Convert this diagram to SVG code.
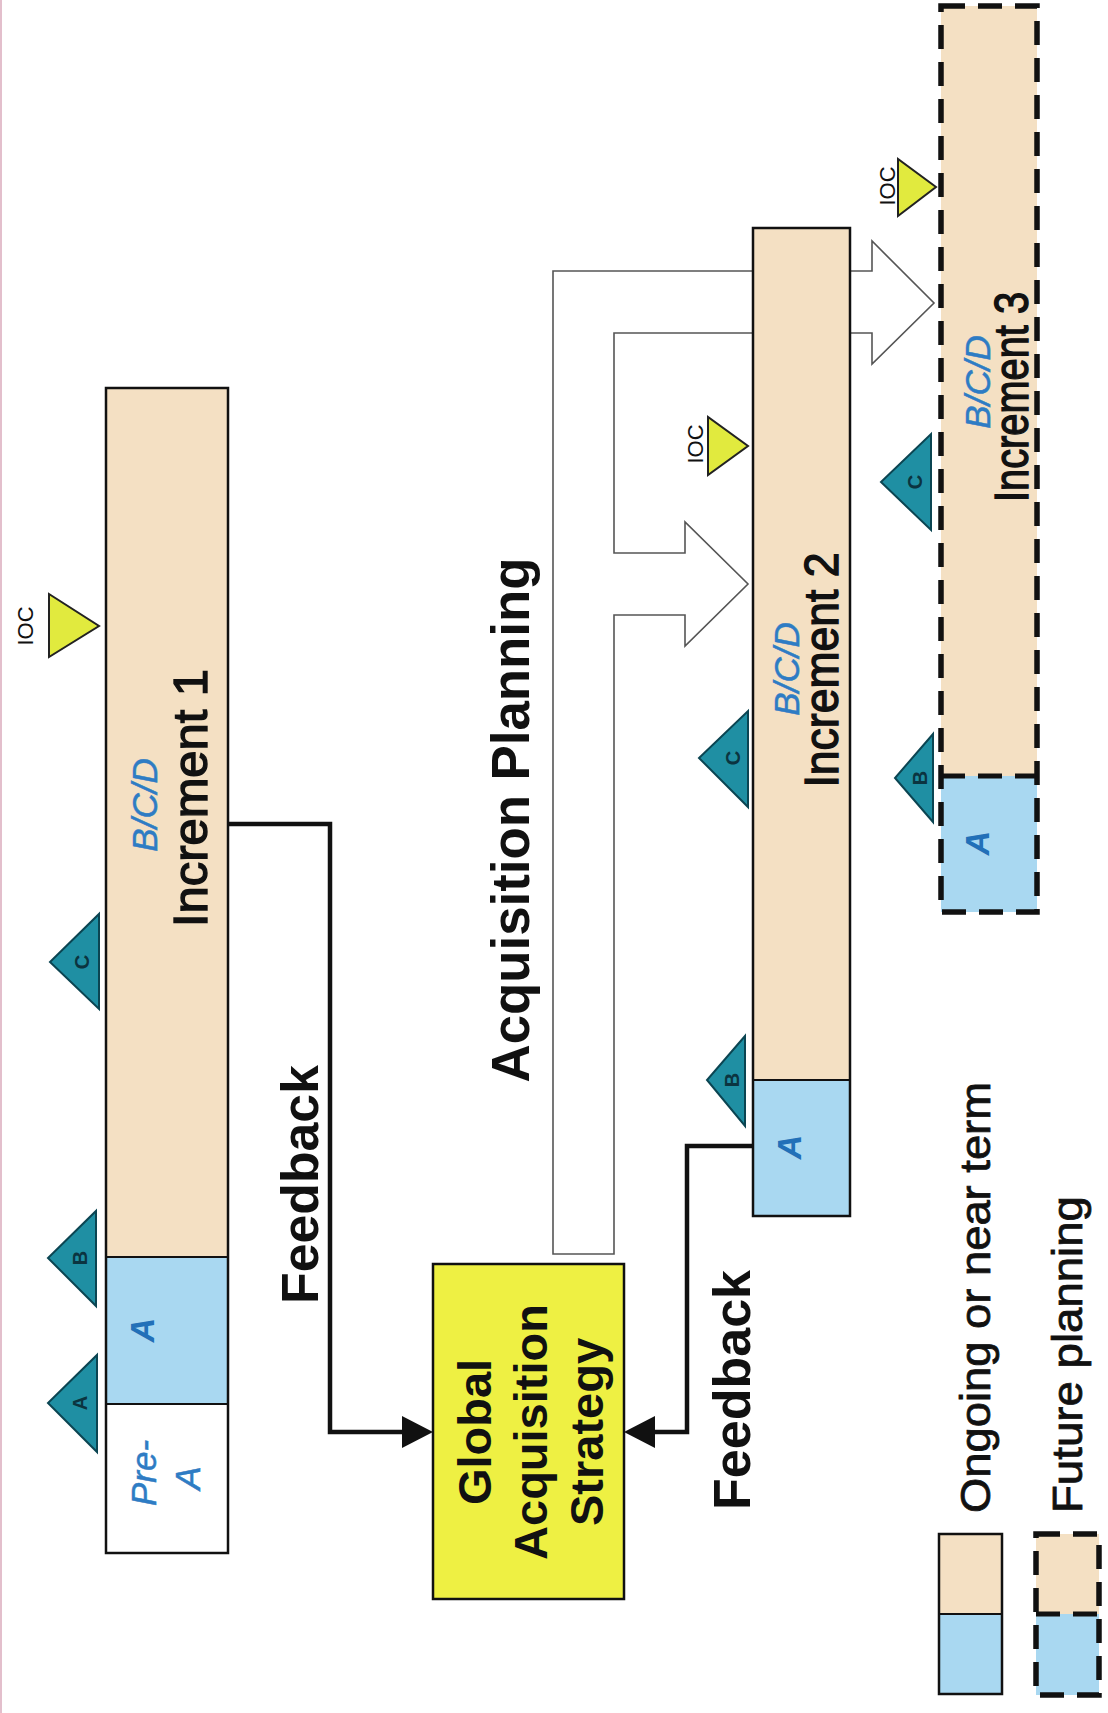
<svg xmlns="http://www.w3.org/2000/svg" width="1108" height="1713" viewBox="0 0 1108 1713">
<defs>
<style>
.tan{fill:#f4e0c3}
.blue{fill:#a9d8f1}
.solid{fill:none;stroke:#111;stroke-width:2.5}
.dash{fill:none;stroke:#111;stroke-width:5.5;stroke-dasharray:24 13}
.teal{fill:#1f8fa3;stroke:#0b4552;stroke-width:2}
.ioc{fill:#e1ea3e;stroke:#222;stroke-width:2}
.t{font-family:"Liberation Sans",Arial,sans-serif}
.mlab{font-size:20px;font-weight:bold;fill:#0b3440;text-anchor:middle}
.ioct{font-size:22px;fill:#111;text-anchor:middle}
.bcd{font-size:35px;font-style:italic;fill:#2e7cc4;stroke:#2e7cc4;stroke-width:0.5;text-anchor:middle}
.al{font-size:34px;font-style:italic;font-weight:bold;fill:#2270b8;text-anchor:middle}
.inc{font-size:48px;fill:#111;stroke:#111;stroke-width:1.4;text-anchor:middle}
.big{font-weight:bold;fill:#111}
.conn{fill:none;stroke:#111;stroke-width:4.5}
.hollow{fill:#fff;stroke:#555;stroke-width:1.6}
.head{fill:#111}
</style>
</defs>
<rect width="1108" height="1713" fill="#fff"/>
<line x1="1" y1="0" x2="1" y2="1713" stroke="#e3bfcc" stroke-width="2"/>

<g id="acquisition-planning-arrow">
<path class="hollow" d="M553,1254 L553,271 L872,271 L872,241 L934,303 L872,364 L872,333 L614,333 L614,553 L685,553 L685,522 L748,584 L685,646 L685,615 L614,615 L614,1254 Z"/>
<text class="t big" font-size="53" text-anchor="middle" textLength="525" lengthAdjust="spacingAndGlyphs" transform="translate(529,820) rotate(-90)">Acquisition Planning</text>
</g>

<g id="connectors">
<path class="conn" d="M228,824 L330,824 L330,1432 L405,1432"/>
<polygon class="head" points="402,1416 433,1432 402,1448"/>
<path class="conn" d="M753,1146 L687,1146 L687,1432 L652,1432"/>
<polygon class="head" points="655,1416 624,1432 655,1448"/>
<text class="t big" font-size="52" textLength="239" lengthAdjust="spacingAndGlyphs" transform="translate(318,1304) rotate(-90)">Feedback</text>
<text class="t big" font-size="52" textLength="240" lengthAdjust="spacingAndGlyphs" transform="translate(750,1510) rotate(-90)">Feedback</text>
</g>

<g id="increment-1">
<rect class="tan" x="106" y="388" width="122" height="869"/>
<rect class="blue" x="106" y="1257" width="122" height="147"/>
<rect fill="#fff" x="106" y="1404" width="122" height="149"/>
<rect class="solid" x="106" y="388" width="122" height="1165"/>
<line x1="106" y1="1257" x2="228" y2="1257" stroke="#111" stroke-width="2"/>
<line x1="106" y1="1404" x2="228" y2="1404" stroke="#111" stroke-width="2"/>
<text class="t bcd" transform="translate(157,805) rotate(-90)">B/C/D</text>
<text class="t inc" textLength="258" lengthAdjust="spacingAndGlyphs" transform="translate(207,798) rotate(-90)">Increment 1</text>
<text class="t al" transform="translate(154,1330) rotate(-90)">A</text>
<text class="t bcd" transform="translate(156,1473) rotate(-90)">Pre-</text>
<text class="t bcd" transform="translate(200,1478) rotate(-90)">A</text>
<polygon class="teal" points="97,1355 97,1452 48,1403"/>
<text class="t mlab" transform="translate(87,1403) rotate(-90)">A</text>
<polygon class="teal" points="96,1211 96,1306 48,1258"/>
<text class="t mlab" transform="translate(87,1258) rotate(-90)">B</text>
<polygon class="teal" points="99,914 99,1009 50,962"/>
<text class="t mlab" transform="translate(89,962) rotate(-90)">C</text>
<polygon class="ioc" points="49,594 49,657 99,626"/>
<text class="t ioct" transform="translate(33,626) rotate(-90)">IOC</text>
</g>

<g id="increment-2">
<rect class="tan" x="753" y="228" width="97" height="852"/>
<rect class="blue" x="753" y="1080" width="97" height="136"/>
<rect class="solid" x="753" y="228" width="97" height="988"/>
<line x1="753" y1="1080" x2="850" y2="1080" stroke="#111" stroke-width="2"/>
<text class="t bcd" font-size="34" transform="translate(799,669) rotate(-90)">B/C/D</text>
<text class="t inc" font-size="44" textLength="235" lengthAdjust="spacingAndGlyphs" transform="translate(838,670) rotate(-90)">Increment 2</text>
<text class="t al" transform="translate(801,1147) rotate(-90)">A</text>
<polygon class="teal" points="745,1036 745,1126 707,1080"/>
<text class="t mlab" transform="translate(739,1080) rotate(-90)">B</text>
<polygon class="teal" points="748,711 748,807 699,758"/>
<text class="t mlab" transform="translate(740,758) rotate(-90)">C</text>
<polygon class="ioc" points="708,417 708,475 748,446"/>
<text class="t ioct" transform="translate(703,444) rotate(-90)">IOC</text>
</g>

<g id="increment-3">
<rect class="tan" x="941" y="6" width="96" height="770"/>
<rect class="blue" x="941" y="776" width="96" height="136"/>
<rect class="dash" x="941" y="6" width="96" height="906"/>
<line x1="941" y1="776" x2="1037" y2="776" stroke="#111" stroke-width="5" stroke-dasharray="24 13"/>
<text class="t bcd" font-size="34" transform="translate(990,382) rotate(-90)">B/C/D</text>
<text class="t inc" font-size="40" textLength="210" lengthAdjust="spacingAndGlyphs" transform="translate(1028,397) rotate(-90)">Increment 3</text>
<text class="t al" transform="translate(989,843) rotate(-90)">A</text>
<polygon class="teal" points="933,734 933,822 895,778"/>
<text class="t mlab" transform="translate(927,778) rotate(-90)">B</text>
<polygon class="teal" points="931,434 931,530 881,482"/>
<text class="t mlab" transform="translate(922,482) rotate(-90)">C</text>
<polygon class="ioc" points="898,159 898,216 936,187"/>
<text class="t ioct" transform="translate(895,186) rotate(-90)">IOC</text>
</g>

<g id="global-acquisition-strategy">
<rect x="433" y="1264" width="191" height="335" fill="#eef043" stroke="#111" stroke-width="2.5"/>
<text class="t big" font-size="47" text-anchor="middle" transform="translate(491,1432) rotate(-90)">Global</text>
<text class="t big" font-size="47" text-anchor="middle" transform="translate(547,1432) rotate(-90)">Acquisition</text>
<text class="t big" font-size="47" text-anchor="middle" transform="translate(603,1432) rotate(-90)">Strategy</text>
</g>

<g id="legend-ongoing">
<rect class="tan" x="939" y="1534" width="63" height="80"/>
<rect class="blue" x="939" y="1614" width="63" height="80"/>
<rect class="solid" x="939" y="1534" width="63" height="160"/>
<line x1="939" y1="1614" x2="1002" y2="1614" stroke="#111" stroke-width="2"/>
<text class="t" font-size="42" fill="#111" stroke="#111" stroke-width="0.8" textLength="431" lengthAdjust="spacingAndGlyphs" transform="translate(990,1513) rotate(-90)">Ongoing or near term</text>
</g>

<g id="legend-future">
<rect class="tan" x="1036" y="1534" width="63" height="80"/>
<rect class="blue" x="1036" y="1614" width="63" height="81"/>
<rect class="dash" x="1036" y="1534" width="63" height="161"/>
<line x1="1036" y1="1614" x2="1099" y2="1614" stroke="#111" stroke-width="5" stroke-dasharray="24 13"/>
<text class="t" font-size="42" fill="#111" stroke="#111" stroke-width="0.8" textLength="317" lengthAdjust="spacingAndGlyphs" transform="translate(1082,1513) rotate(-90)">Future planning</text>
</g>
</svg>
